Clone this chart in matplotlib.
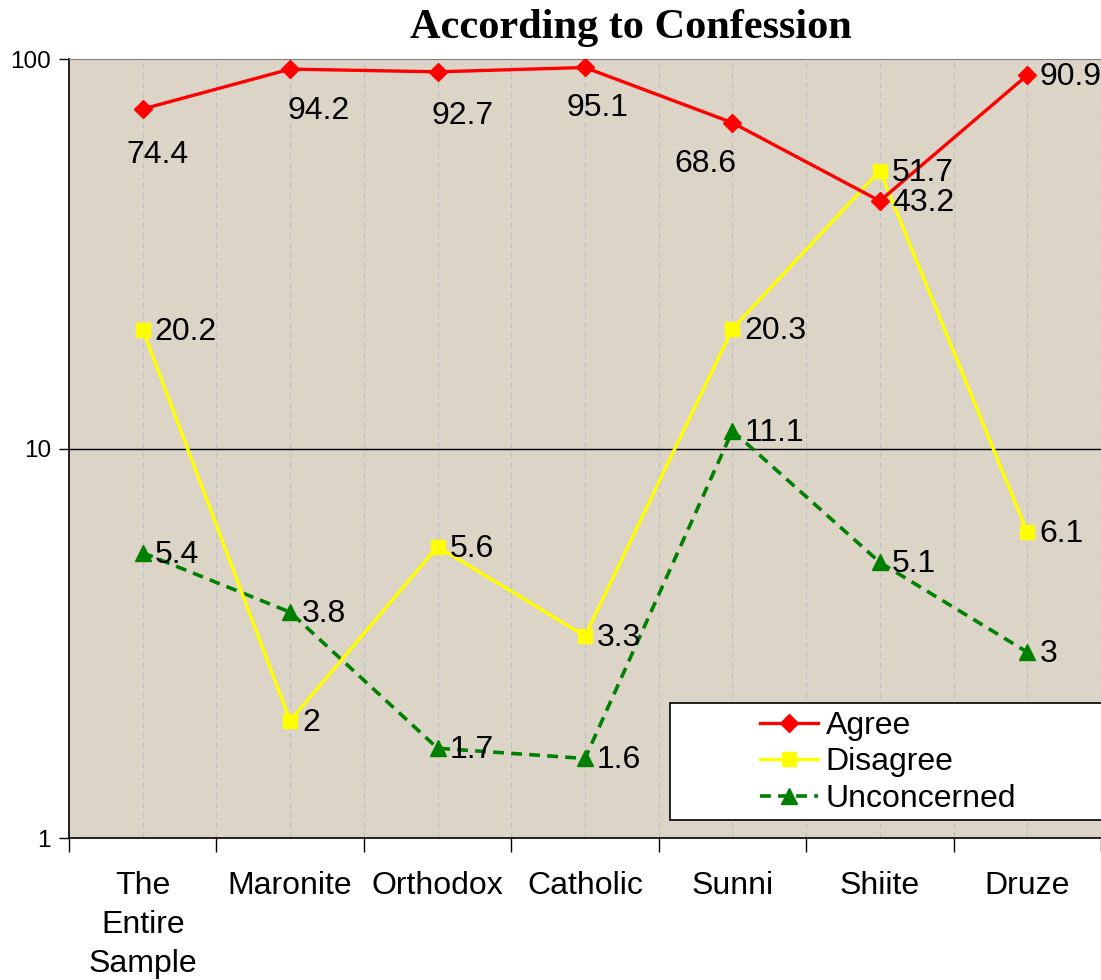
import matplotlib
matplotlib.use("Agg")
import matplotlib.pyplot as plt
from matplotlib.patches import Rectangle
import numpy as np

categories = ["The\nEntire\nSample", "Maronite", "Orthodox", "Catholic", "Sunni", "Shiite", "Druze"]
agree = [74.4, 94.2, 92.7, 95.1, 68.6, 43.2, 90.9]
disagree = [20.2, 2, 5.6, 3.3, 20.3, 51.7, 6.1]
unconcerned = [5.4, 3.8, 1.7, 1.6, 11.1, 5.1, 3]
agree_labels = ["74.4", "94.2", "92.7", "95.1", "68.6", "43.2", "90.9"]
disagree_labels = ["20.2", "2", "5.6", "3.3", "20.3", "51.7", "6.1"]
unconcerned_labels = ["5.4", "3.8", "1.7", "1.6", "11.1", "5.1", "3"]

plt.rcParams['font.family'] = ['Liberation Sans', 'DejaVu Sans']

W, H = 1101, 980
fig = plt.figure(figsize=(W / 100, H / 100), dpi=100)
ax = fig.add_axes([69 / W, 1 - 838 / H, (1101 - 69) / W, (838 - 59) / H])
ax.set_facecolor('#ddd4c8')

x = np.arange(len(categories))
ax.set_yscale('log')
ax.set_ylim(1, 100)
ax.set_xlim(-0.5, len(categories) - 0.5)

# faint vertical dashed grid
for gx in np.arange(-0.5, len(categories), 0.5):
    ax.axvline(gx, color='#bdbfc4', lw=0.8, dashes=(5, 4), zorder=1)
ax.axhline(10, color='black', lw=1.0, zorder=2)

fs = 23
ax.plot(x, agree, color='#ff0000', lw=2.4, marker='D', ms=9, label='Agree', zorder=5)
ax.plot(x, disagree, color='#ffff00', lw=2.4, marker='s', ms=10, label='Disagree', zorder=4)
ax.plot(x, unconcerned, color='#008000', lw=2.6, marker='^', ms=11, dashes=(3, 2),
        label='Unconcerned', zorder=3)

# data labels
agree_offsets = [(15, -46), (28, -42), (25, -44), (12, -41), (-27, -41), None, None]
for i, (v, t) in enumerate(zip(agree, agree_labels)):
    off = agree_offsets[i]
    if off is None:
        ax.annotate(t, (x[i], v), xytext=(12, -2), textcoords='offset pixels',
                    ha='left', va='center', fontsize=fs, zorder=6)
    else:
        ax.annotate(t, (x[i], v), xytext=off, textcoords='offset pixels',
                    ha='center', va='center', fontsize=fs, zorder=6)
for i, (v, t) in enumerate(zip(disagree, disagree_labels)):
    ax.annotate(t, (x[i], v), xytext=(12, -2), textcoords='offset pixels',
                ha='left', va='center', fontsize=fs, zorder=6)
for i, (v, t) in enumerate(zip(unconcerned, unconcerned_labels)):
    ax.annotate(t, (x[i], v), xytext=(12, -2), textcoords='offset pixels',
                ha='left', va='center', fontsize=fs, zorder=6)

# axes styling
ax.set_xticks(x)
ax.set_xticklabels(categories, fontsize=fs, linespacing=1.38)
ax.tick_params(axis='x', which='major', length=0, pad=24)
ax.set_xticks(np.arange(-0.5, len(categories), 1.0), minor=True)
ax.tick_params(axis='x', which='minor', length=10, width=1, direction='out', color='black')
ax.set_yticks([1, 10, 100])
ax.set_yticklabels(["1", "10", "100"], fontsize=17.5)
ax.yaxis.set_minor_locator(matplotlib.ticker.NullLocator())
ax.tick_params(axis='y', which='major', length=7, width=1, direction='out', pad=6)

ax.spines['left'].set_color('black')
ax.spines['bottom'].set_color('black')
ax.spines['left'].set_linewidth(1.2)
ax.spines['bottom'].set_linewidth(1.2)
ax.spines['top'].set_color('#808080')
ax.spines['right'].set_visible(False)

# title
fig.text(631 / W, 1 - 28 / H, "According to Confession", ha='center', va='center',
         fontsize=30.5, fontweight='bold', family=['Liberation Serif', 'DejaVu Serif'])

# legend box
rect = Rectangle((670 / W, 1 - 820 / H), 0.5, (820 - 703) / H, transform=fig.transFigure,
                 facecolor='white', edgecolor='black', lw=1.2, zorder=10)
fig.add_artist(rect)
leg = fig.legend(loc='upper left', bbox_to_anchor=(760 / W, 1 - 711 / H),
                 bbox_transform=fig.transFigure, frameon=False, fontsize=fs,
                 borderpad=0, borderaxespad=0, handlelength=1.8, handletextpad=0.25,
                 labelspacing=0.2, numpoints=1)
leg.set_zorder(11)

fig.savefig("out.png", dpi=100)
